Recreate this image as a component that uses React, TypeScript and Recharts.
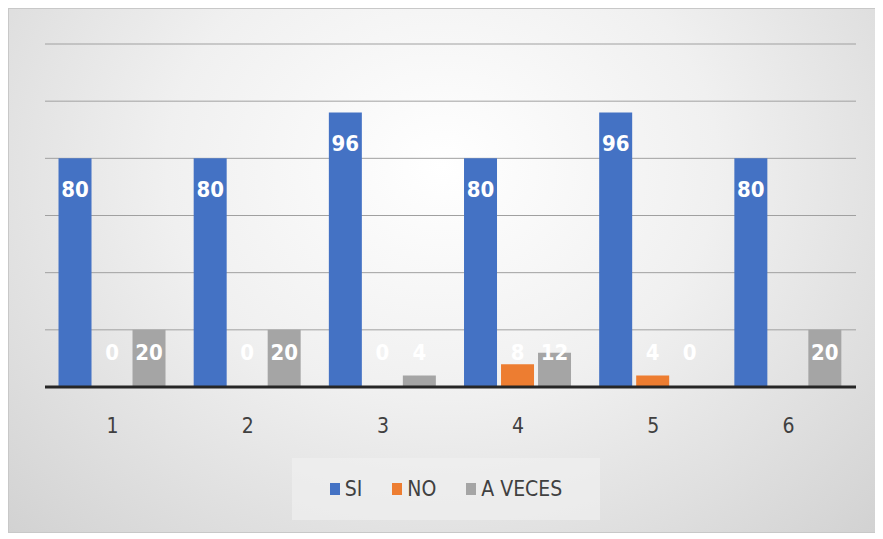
import React from "react";
import {
  BarChart,
  Bar,
  XAxis,
  YAxis,
  CartesianGrid,
  LabelList,
} from "recharts";

const categories = ["1", "2", "3", "4", "5", "6"];
const si = [80, 80, 96, 80, 96, 80];
const no: (number | null)[] = [0, 0, 0, 8, 4, null];
const aVeces = [20, 20, 4, 12, 0, 20];
const yTicks = [0, 20, 40, 60, 80, 100, 120];

const series = [
  { key: "si", name: "SI", color: "#4472C4" },
  { key: "no", name: "NO", color: "#ED7D31" },
  { key: "aVeces", name: "A VECES", color: "#A5A5A5" },
];

const data = categories.map((c, i) => ({
  cat: c,
  si: si[i],
  no: no[i],
  aVeces: aVeces[i],
}));

const FONT = "'DejaVu Sans Condensed', 'DejaVu Sans', sans-serif";

// tall bars: label just inside the top; short bars: label at a fixed height above the axis
function makeLabel(tall: boolean) {
  return (props: any) => {
    const { x, y, width, height, value } = props;
    if (value === null || value === undefined) return null;
    const cy = tall ? y + 31 : y + height - 35;
    return (
      <text
        x={x + width / 2}
        y={cy}
        textAnchor="middle"
        dominantBaseline="central"
        fill="#ffffff"
        fontFamily={FONT}
        fontWeight="bold"
        fontSize={22}
      >
        {value}
      </text>
    );
  };
}

export default function App() {
  return (
    <div
      style={{
        position: "relative",
        width: 867,
        height: 523,
        border: "1px solid #c8c8c8",
        background:
          "radial-gradient(ellipse at 50% 30%, #ffffff 0%, #f0f0f0 45%, #d2d2d2 100%)",
      }}
    >
      <BarChart
        width={867}
        height={523}
        data={data}
        margin={{ top: 35, right: 20, left: 36, bottom: 100 }}
        barCategoryGap="10%"
        barGap={4}
      >
        <CartesianGrid vertical={false} stroke="#a0a0a0" />
        <YAxis hide domain={[0, 120]} ticks={yTicks} />
        <XAxis
          dataKey="cat"
          axisLine={{ stroke: "#262626", strokeWidth: 3 }}
          tickLine={false}
          tickMargin={25}
          height={45}
          tick={{ fill: "#404040", fontSize: 21, fontFamily: FONT }}
        />
        {series.map((s) => (
          <Bar
            key={s.key}
            dataKey={s.key}
            name={s.name}
            fill={s.color}
            minPointSize={1}
            isAnimationActive={false}
          >
            <LabelList dataKey={s.key} content={makeLabel(s.key === "si")} />
          </Bar>
        ))}
      </BarChart>
      <div
        style={{
          position: "absolute",
          left: 283,
          top: 449,
          width: 308,
          height: 62,
          background: "rgba(240,240,240,0.7)",
          display: "flex",
          alignItems: "center",
          justifyContent: "center",
          gap: 30,
          fontFamily: FONT,
          fontSize: 21,
          color: "#404040",
        }}
      >
        {series.map((s) => (
          <div key={s.key} style={{ display: "flex", alignItems: "center" }}>
            <span
              style={{
                display: "inline-block",
                width: 10,
                height: 12,
                background: s.color,
                marginRight: 5,
              }}
            />
            {s.name}
          </div>
        ))}
      </div>
    </div>
  );
}
